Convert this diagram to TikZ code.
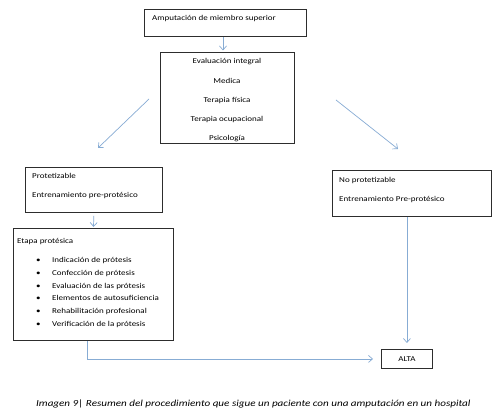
\documentclass[tikz,border=0pt]{standalone}
\usepackage{fontspec}
\setmainfont{Carlito}[FakeStretch=1.2]
\usetikzlibrary{arrows.meta}
\definecolor{arrowblue}{RGB}{135,172,212}
\definecolor{boxline}{RGB}{45,45,45}
\tikzset{
  box/.style={draw=boxline, line width=0.9pt, rectangle, anchor=north west, inner sep=0pt},
  txt/.style={inner sep=0pt, anchor=base west, font=\fontsize{7.5}{9}\selectfont},
  flow/.style={draw=arrowblue, line width=0.7pt, -{Straight Barb[length=4pt,width=7pt]}},
}
\begin{document}
\begin{tikzpicture}[x=1pt,y=-1pt]
\useasboundingbox[fill=white] (0,0) rectangle (499,414);

% boxes
\node[box, minimum width=162pt, minimum height=27pt] (amp) at (144,9) {};
\node[box, minimum width=134pt, minimum height=91pt] (eval) at (160,52) {};
\node[box, minimum width=137pt, minimum height=45pt] (prot) at (25,167) {};
\node[box, minimum width=160pt, minimum height=112pt] (etapa) at (13,228) {};
\node[box, minimum width=159pt, minimum height=46pt] (noprot) at (332,170) {};
\node[box, minimum width=51pt, minimum height=19pt, font=\fontsize{7.5}{9}\selectfont] (alta) at (381,349) {ALTA};

% texts
\node[txt] (tamp) at (152,21) {Amputación de miembro superior};
\node[txt, anchor=base] (teval) at (227,64) {\fontsize{7.5}{19.2}\selectfont
  \begin{tabular}[t]{@{}c@{}}
  Evaluación integral\\ Medica\\ Terapia física\\ Terapia ocupacional\\ Psicología
  \end{tabular}};
\node[txt] (tprot) at (32,179) {\fontsize{7.5}{19}\selectfont
  \begin{tabular}[t]{@{}l@{}}
  Protetizable\\ Entrenamiento pre-protésico
  \end{tabular}};
\node[txt] (tnoprot) at (339,183) {\fontsize{7.5}{18.5}\selectfont
  \begin{tabular}[t]{@{}l@{}}
  No protetizable\\ Entrenamiento Pre-protésico
  \end{tabular}};
\node[txt] (tetapa) at (17,244) {\fontsize{7.5}{12.9}\selectfont
  \begin{tabular}[t]{@{}l@{}}
  Etapa protésica\\[5.4pt]
  \hspace*{19pt}\makebox[16pt][l]{•}Indicación de prótesis\\
  \hspace*{19pt}\makebox[16pt][l]{•}Confección de prótesis\\
  \hspace*{19pt}\makebox[16pt][l]{•}Evaluación de las prótesis\\
  \hspace*{19pt}\makebox[16pt][l]{•}Elementos de autosuficiencia\\
  \hspace*{19pt}\makebox[16pt][l]{•}Rehabilitación profesional\\
  \hspace*{19pt}\makebox[16pt][l]{•}Verificación de la prótesis
  \end{tabular}};

% caption
\node[txt, font=\fontsize{9.25}{11}\selectfont\itshape] (caption) at (36,407)
  {Imagen 9| Resumen del procedimiento que sigue un paciente con una amputación en un hospital};

% helper coordinates
\coordinate (xa) at (223,0);
\coordinate (xe) at (87,0);
\coordinate (dl1) at (149,99);
\coordinate (dl2) at (98,148);
\coordinate (dr1) at (336,100);
\coordinate (dr2) at (398,149);

% connectors
\draw[flow, shorten >=1.5pt] (amp.south -| xa) -- (eval.north -| xa);
\draw[flow] (dl1) -- (dl2);
\draw[flow] (dr1) -- (dr2);
\draw[flow, shorten <=3pt, shorten >=1pt] (prot.south) -- (etapa.north);
\draw[flow, shorten >=8pt] (etapa.south -| xe) |- (alta.west);
\draw[flow, shorten >=6pt] (alta.north |- noprot.south) -- (alta.north);
\end{tikzpicture}
\end{document}
